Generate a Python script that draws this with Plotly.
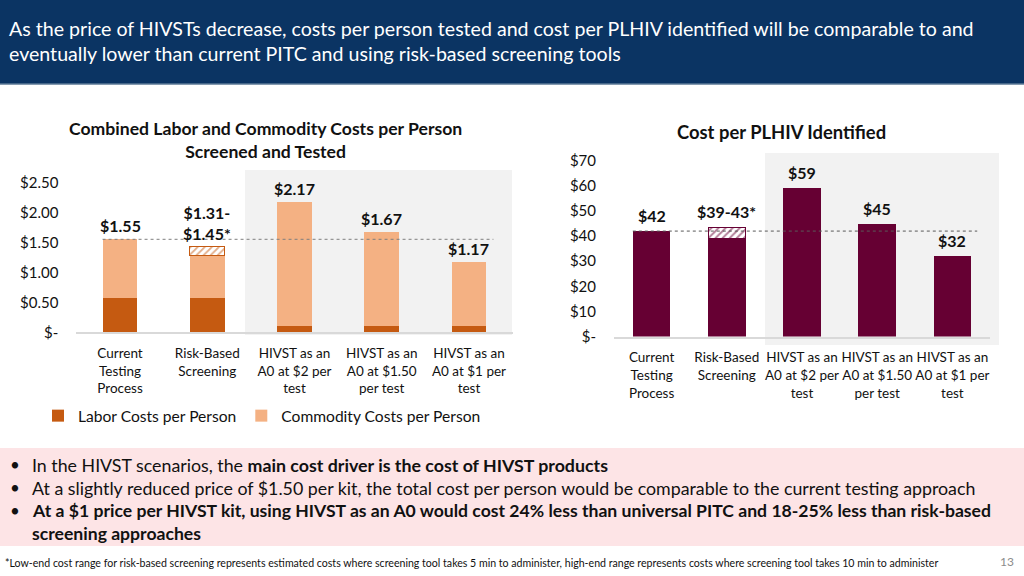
import plotly.graph_objects as go

# ---------------- data ----------------
categories = ["Current", "Risk-Based", "HIVST $2", "HIVST $1.50", "HIVST $1"]
tick_labels = [
    "Current<br>Testing<br>Process",
    "Risk-Based<br>Screening",
    "HIVST as an<br>A0 at $2 per<br>test",
    "HIVST as an<br>A0 at $1.50<br>per test",
    "HIVST as an<br>A0 at $1 per<br>test",
]

labor_cost = [0.58, 0.57, 0.10, 0.10, 0.10]
commodity_cost = [0.97, 0.71, 2.07, 1.57, 1.07]
commodity_range = [None, 0.15, None, None, None]
left_labels = ["$1.55", "$1.31-<br>$1.45*", "$2.17", "$1.67", "$1.17"]

plhiv_cost = [42, 39, 59, 45, 32]
plhiv_range = [None, 4.5, None, None, None]
right_labels = ["$42", "$39-43*", "$59", "$45", "$32"]

left_ticks = [0, 0.5, 1.0, 1.5, 2.0, 2.5]
left_ticktext = ["$-", "$0.50", "$1.00", "$1.50", "$2.00", "$2.50"]
right_ticks = [0, 10, 20, 30, 40, 50, 60, 70]
right_ticktext = ["$-", "$10", "$20", "$30", "$40", "$50", "$60", "$70"]

# ---------------- styles ----------------
FONT = "Lato, Carlito, Calibri, sans-serif"
LABOR = "#C55A11"
COMM = "#F4B183"
MAROON = "#660033"
NAVY = "#0B3463"
W, H = 1024, 576


def px(x):
    return x / W


def py(y):
    return 1 - y / H


fig = go.Figure()

fig.add_trace(go.Bar(x=categories, y=labor_cost, name="Labor Costs per Person",
                     marker=dict(color=LABOR, line=dict(width=0)), width=0.4,
                     xaxis="x", yaxis="y"))
fig.add_trace(go.Bar(x=categories, y=commodity_cost, name="Commodity Costs per Person",
                     marker=dict(color=COMM, line=dict(width=0)), width=0.4,
                     xaxis="x", yaxis="y"))
fig.add_trace(go.Bar(x=categories, y=commodity_range, showlegend=False, width=0.4,
                     marker=dict(color="white",
                                 pattern=dict(shape="/", fgcolor=LABOR, bgcolor="white",
                                              size=5, solidity=0.35),
                                 line=dict(color=LABOR, width=1)),
                     xaxis="x", yaxis="y"))

fig.add_trace(go.Bar(x=categories, y=plhiv_cost, showlegend=False, width=0.5,
                     marker=dict(color=MAROON, line=dict(width=0)),
                     xaxis="x2", yaxis="y2"))
fig.add_trace(go.Bar(x=categories, y=plhiv_range, showlegend=False, width=0.5,
                     marker=dict(color="white",
                                 pattern=dict(shape="/", fgcolor=MAROON, bgcolor="white",
                                              size=5, solidity=0.4),
                                 line=dict(color=MAROON, width=1)),
                     xaxis="x2", yaxis="y2"))

shapes = [
    # header band
    dict(type="rect", xref="paper", yref="paper", x0=0, x1=1, y0=py(84), y1=1,
         fillcolor=NAVY, line=dict(width=0), layer="below"),
    dict(type="line", xref="paper", yref="paper", x0=0, x1=1, y0=py(84), y1=py(84),
         line=dict(color="#5B7896", width=1.5), layer="below"),
    # grey highlight areas
    dict(type="rect", xref="paper", yref="paper", x0=px(245), x1=px(512), y0=py(335), y1=py(170),
         fillcolor="#F2F2F2", line=dict(width=0), layer="below"),
    dict(type="rect", xref="paper", yref="paper", x0=px(765), x1=px(999), y0=py(345), y1=py(153),
         fillcolor="#F2F2F2", line=dict(width=0), layer="below"),
    # pink text box
    dict(type="rect", xref="paper", yref="paper", x0=0, x1=1, y0=py(546), y1=py(448),
         fillcolor="#FDE4E6", line=dict(width=0), layer="below"),
    # reference dotted lines
    dict(type="line", xref="x", yref="y", x0=-0.2, x1=4.28,
         y0=labor_cost[0] + commodity_cost[0], y1=labor_cost[0] + commodity_cost[0],
         line=dict(color="#7F7F7F", width=1, dash="dot")),
    dict(type="line", xref="x2", yref="y2", x0=-0.25, x1=4.33,
         y0=plhiv_cost[0], y1=plhiv_cost[0],
         line=dict(color="#595959", width=1, dash="dot")),
]

annotations = []
# bar value labels
for i, c in enumerate(categories):
    top = labor_cost[i] + commodity_cost[i] + (commodity_range[i] or 0)
    annotations.append(dict(x=c, y=top, xref="x", yref="y", text="<b>%s</b>" % left_labels[i],
                            showarrow=False, xanchor="center", yanchor="bottom", yshift=2,
                            font=dict(family=FONT, size=16, color="#111111")))
    top2 = plhiv_cost[i] + (plhiv_range[i] or 0)
    annotations.append(dict(x=c, y=top2, xref="x2", yref="y2", text="<b>%s</b>" % right_labels[i],
                            showarrow=False, xanchor="center", yanchor="bottom", yshift=4,
                            font=dict(family=FONT, size=16, color="#111111")))


def note(x, y, text, size, color="#111111", xanchor="left", align="left"):
    return dict(x=px(x), y=py(y), xref="paper", yref="paper", showarrow=False,
                xanchor=xanchor, yanchor="middle", align=align, text=text,
                font=dict(family=FONT, size=size, color=color))


# titles
annotations += [
    note(265, 140, "<b>Combined Labor and Commodity Costs per Person<br>Screened and Tested</b>",
         17.6, xanchor="center", align="center"),
    note(781, 132, "<b>Cost per PLHIV Identified</b>", 18.4, xanchor="center", align="center"),
    note(7, 40.5, "As the price of HIVSTs decrease, costs per person tested and cost per PLHIV identified will be comparable to and<br>eventually lower than current PITC and using risk-based screening tools",
         19.6, color="white"),
]

bullets = [
    (464.5, "In the HIVST scenarios, the <b>main cost driver is the cost of HIVST products</b>", 17.8),
    (487.5, "At a slightly reduced price of $1.50 per kit, the total cost per person would be comparable to the current testing approach", 17.8),
    (510.5, "<b>At a $1 price per HIVST kit, using HIVST as an A0 would cost 24% less than universal PITC and 18-25% less than risk-based</b>", 17.6),
]
for yy, t, s in bullets:
    annotations.append(note(8, yy, "•", 17))
    annotations.append(note(30, yy, t, s))
annotations.append(note(30, 533.5, "<b>screening approaches</b>", 17.6))
annotations += [
    note(3, 563, "*Low-end cost range for risk-based screening represents estimated costs where screening tool takes 5 min to administer, high-end range represents costs where screening tool takes 10 min to administer",
         10.6),
    note(1016, 561, "13", 12, color="#8C8C8C", xanchor="right", align="right"),
]

axis_common = dict(showgrid=False, zeroline=False, fixedrange=True, automargin=False)

fig.update_layout(
    width=W, height=H,
    margin=dict(l=0, r=0, t=0, b=0, pad=0, autoexpand=False),
    paper_bgcolor="white", plot_bgcolor="rgba(0,0,0,0)",
    barmode="stack",
    font=dict(family=FONT, color="#111111"),
    shapes=shapes, annotations=annotations,
    xaxis=dict(domain=[px(76.4), px(512.6)], anchor="y", tickvals=categories, ticktext=tick_labels,
               tickfont=dict(size=13.5, color="#111111"), ticks="", ticklabelstandoff=8,
               showline=True, linecolor="#D9D9D9", linewidth=1.5, **axis_common),
    yaxis=dict(domain=[py(332.3), py(170.3)], anchor="x", range=[0, 2.7],
               tickvals=left_ticks, ticktext=left_ticktext, ticks="", ticklabelstandoff=17,
               tickfont=dict(size=15, color="#111111"), showline=False, **axis_common),
    xaxis2=dict(domain=[px(614), px(990)], anchor="y2", tickvals=categories, ticktext=tick_labels,
                tickfont=dict(size=13.5, color="#111111"), ticks="", ticklabelstandoff=8,
                showline=True, linecolor="#D9D9D9", linewidth=1.5, **axis_common),
    yaxis2=dict(domain=[py(336.5), py(155.8)], anchor="x2", range=[0, 72],
                tickvals=right_ticks, ticktext=right_ticktext, ticks="", ticklabelstandoff=17,
                tickfont=dict(size=15, color="#111111"), showline=False, **axis_common),
    legend=dict(orientation="h", x=px(38), y=py(416), xanchor="left", yanchor="middle",
                font=dict(family=FONT, size=15.6, color="#111111"), bgcolor="rgba(0,0,0,0)",
                itemwidth=30, traceorder="normal", itemclick=False),
    showlegend=True,
)

fig.write_html("out.html", config={"displayModeBar": False, "staticPlot": False},
               post_script="document.body.style.margin='0';document.body.style.overflow='hidden';")
